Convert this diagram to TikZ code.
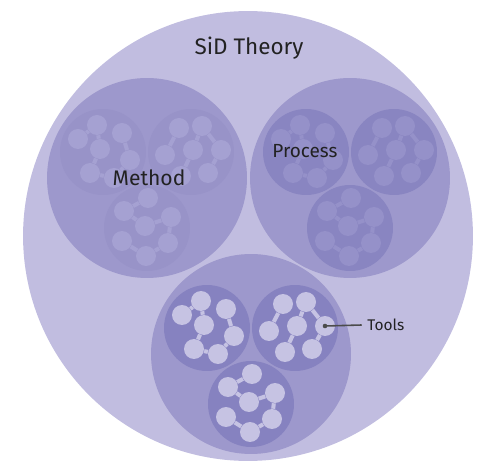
\documentclass[tikz,border=0pt]{standalone}
\usepackage{fontspec}
\setmainfont{Fira Sans}
\usetikzlibrary{calc}

\definecolor{theoryfill}{HTML}{C1BDE0}
\definecolor{partfill}{HTML}{9D98CC}
\definecolor{methodcell}{HTML}{9893C8}
\definecolor{methodball}{HTML}{A5A1D2}
\definecolor{processcell}{HTML}{8985C1}
\definecolor{processball}{HTML}{9591C9}
\definecolor{toolcell}{HTML}{8682C0}
\definecolor{toolball}{HTML}{C6C3E3}
\definecolor{inkgrey}{HTML}{222222}

\tikzset{
  area/.style={circle, fill=#1, inner sep=0pt},
  method cell/.style={circle, fill=methodcell, minimum size=1.72cm, inner sep=0pt},
  method ball/.style={circle, fill=methodball, minimum size=0.4cm, inner sep=0pt},
  method link/.style={methodball, line width=2.3pt},
  process cell/.style={circle, fill=processcell, minimum size=1.72cm, inner sep=0pt},
  process ball/.style={circle, fill=processball, minimum size=0.4cm, inner sep=0pt},
  process link/.style={processball, line width=2.3pt},
  tool cell/.style={circle, fill=toolcell, minimum size=1.72cm, inner sep=0pt},
  tool ball/.style={circle, fill=toolball, minimum size=0.4cm, inner sep=0pt},
  tool link/.style={toolball, line width=2.3pt},
  label/.style={text=inkgrey, inner sep=0pt}
}

% one small circle with its chain of balls
% #1 name, #2 centre, #3 look, #4 ball offsets, #5 links
\newcommand{\cluster}[5]{%
  \node[#3 cell] (#1) at (#2) {};
  \foreach \dx/\dy [count=\i] in {#4}
    \node[#3 ball] (#1-\i) at ($(#1)+(\dx,\dy)$) {};
  \foreach \p/\q in {#5}
    \draw[#3 link] (#1-\p) -- (#1-\q);
}

% the three small circles inside one part
% #1 name, #2 centre, #3 look
\newcommand{\trio}[3]{%
  \cluster{#1L}{$(#2)+(-44,-26)$}{#3}
    {-25/-13, -6/-27, 19/-19, -3/-3, 27/8, -13/21, 11/26}
    {1/2, 2/4, 4/6, 6/7, 7/5, 5/3}
  \cluster{#1R}{$(#2)+(44,-26)$}{#3}
    {-12/-24, 11/-26, 30/-2, 2/-2, -26/3, -10/24, 17/21}
    {1/5, 2/4, 2/3, 4/6, 3/7}
  \cluster{#1B}{$(#2)+(0,50)$}{#3}
    {1/-30, -23/-17, 24/-11, -2/-2, -25/13, 21/15, -1/28}
    {1/2, 2/4, 4/3, 3/6, 6/7, 7/5}
}

\begin{document}
\begin{tikzpicture}[x=0.02cm, y=-0.02cm]
  \useasboundingbox (0,0) rectangle (500,472);

  % Outer theory circle
  \node[area=theoryfill, minimum size=9cm] (theory) at (248,236) {};
  \node[label, font=\fontsize{12.8}{15}\selectfont] (title) at (249,48) {SiD Theory};

  % The three parts
  \node[area=partfill, minimum size=4cm] (method) at (147,178) {};
  \node[area=partfill, minimum size=4cm] (process) at (350,178) {};
  \node[area=partfill, minimum size=4cm] (tools) at (251,354) {};

  \trio{m}{method}{method}
  \trio{p}{process}{process}
  \trio{t}{tools}{tool}

  % Labels
  \node[label, font=\fontsize{12}{14}\selectfont] (methodtext) at (149,178) {Method};
  \node[label, font=\fontsize{10.8}{13}\selectfont] (processtext) at (305,151) {Process};
  \node[label, font=\fontsize{8.8}{11}\selectfont, anchor=west] (toolstext) at (367,325) {Tools};

  % Pointer to one tool
  \fill[black!70] (tR-3) circle (1.3pt);
  \draw[black!70, line width=0.9pt] (tR-3.center) -- ([xshift=-3pt]toolstext.west);
\end{tikzpicture}
\end{document}
